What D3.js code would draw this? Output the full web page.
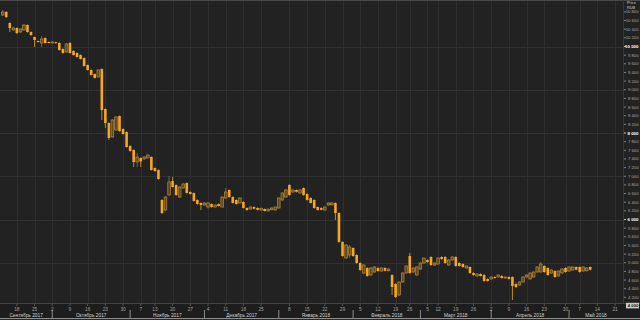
<!DOCTYPE html>
<html><head><meta charset="utf-8">
<script src="https://cdn.jsdelivr.net/npm/d3@7"></script>
<style>
html,body{margin:0;padding:0;background:#222;}
svg{display:block;font-family:"Liberation Sans","DejaVu Sans",sans-serif;}
</style></head>
<body><svg id="c" width="640" height="320"></svg>
<script>
// ---- data (daily candles, RUB) ----
const opens = [10728,10798,10543,10382,10428,10335,10382,10497,10335,10220,10127,10081,10197,10104,10095,10100,10081,9942,9873,10081,9896,9850,9803,9734,9572,9457,9364,9295,9480,8555,8231,7908,8069,8393,8092,8023,7700,7607,7329,7422,7399,7422,7445,7191,7145,6451,6220,6567,6890,6798,6520,6728,6844,6636,6613,6451,6382,6335,6289,6358,6289,6358,6289,6497,6682,6520,6451,6382,6405,6266,6243,6289,6266,6220,6243,6200,6225,6220,6266,6451,6520,6798,6636,6682,6613,6728,6590,6497,6451,6289,6266,6220,6335,6340,6382,6150,5480,5110,5179,5341,5179,4994,4763,4879,4717,4786,4879,4809,4879,4815,4717,4509,4254,4555,4763,5156,4786,4717,4856,4994,5064,5133,4948,4971,5133,5133,4948,5064,5133,4994,4971,4879,4902,4763,4694,4740,4717,4624,4624,4671,4671,4694,4647,4671,4671,4509,4486,4555,4671,4624,4671,4786,4786,4925,4879,4763,4809,4694,4763,4879,4809,4832,4902,4902,4809,4815,4902];
const highs = [10844,10820,10560,10450,10440,10420,10520,10510,10350,10230,10140,10243,10210,10115,10115,10110,10095,9955,10080,10100,9910,9860,9815,9745,9585,9470,9375,9480,9495,8570,8245,8320,8390,8405,8105,8035,7715,7620,7538,7435,7460,7505,7460,7200,7160,6470,6540,7006,6983,6810,6770,6840,6860,6650,6625,6465,6395,6395,6400,6370,6350,6370,6535,6728,6695,6535,6465,6510,6420,6280,6300,6300,6280,6275,6255,6255,6280,6300,6510,6630,6700,6815,6695,6695,6700,6740,6605,6510,6465,6300,6280,6300,6395,6400,6395,6165,5495,5430,5410,5355,5195,5010,4965,4895,4895,4920,4895,4895,4895,4870,4735,4525,4570,4780,4940,5225,4895,4920,5010,5125,5080,5150,5010,5125,5150,5150,5080,5150,5150,5010,4985,4940,4915,4780,4755,4755,4735,4640,4685,4685,4730,4710,4685,4685,4685,4525,4570,4685,4730,4780,4800,4920,5017,4940,4895,4850,4825,4825,4870,4895,4920,4915,4915,4915,4915,4895,4915];
const lows = [10705,10660,10335,10360,10290,10310,10370,10320,10250,9988,10090,9988,10070,10075,10080,10070,9905,9835,9860,9840,9790,9745,9700,9535,9445,9330,9260,9280,8301,8116,7838,7890,8050,8030,7960,7660,7570,7214,7214,7214,7385,7410,7130,7105,6920,6130,6200,6550,6740,6550,6505,6715,6600,6575,6415,6345,6220,6320,6250,6275,6275,6300,6275,6480,6505,6370,6345,6370,6255,6205,6230,6235,6210,6205,6185,6185,6210,6205,6250,6435,6505,6550,6620,6625,6600,6550,6435,6370,6250,6205,6210,6205,6320,6325,5989,5460,5140,5095,5110,5140,4980,4815,4745,4680,4700,4770,4795,4795,4800,4800,4254,4190,4235,4540,4750,4745,4770,4700,4840,4980,5000,4930,4930,4955,5070,4980,4930,5050,4910,4910,4885,4865,4745,4700,4680,4680,4560,4560,4610,4630,4655,4630,4630,4610,4139,4420,4470,4540,4655,4610,4655,4770,4770,4770,4700,4745,4655,4680,4745,4770,4795,4815,4825,4770,4795,4800,4825];
const closes = [10798,10682,10428,10428,10312,10405,10497,10335,10266,10150,10104,10173,10081,10090,10104,10085,9919,9850,10058,9850,9803,9757,9711,9549,9457,9341,9272,9457,8532,8231,7884,8301,8370,8046,7977,7676,7584,7329,7445,7340,7445,7491,7145,7121,6936,6150,6520,6867,6752,6567,6752,6821,6613,6590,6428,6358,6335,6382,6382,6289,6335,6312,6520,6636,6520,6382,6358,6497,6266,6220,6289,6250,6225,6260,6197,6240,6266,6289,6497,6613,6682,6567,6682,6640,6682,6567,6451,6382,6266,6220,6225,6289,6382,6382,6150,5480,5156,5410,5364,5156,4994,4832,4948,4694,4879,4902,4809,4879,4815,4856,4439,4208,4555,4763,4925,4763,4879,4902,4994,5110,5017,4948,4994,5110,5087,4994,5064,5133,4925,4925,4902,4925,4763,4717,4740,4694,4578,4578,4671,4647,4717,4647,4671,4624,4462,4439,4555,4671,4717,4763,4786,4902,4971,4786,4717,4832,4671,4809,4856,4786,4902,4902,4840,4786,4902,4879,4840];

// axis labels
const priceTicks = [4200,4400,4600,4800,5000,5200,5400,5600,5800,6000,6200,6400,6600,6800,7000,7200,7400,7600,7800,8000,8200,8400,8600,8800,9000,9200,9400,9600,9800,10000,10200,10400,10600,10800];
const majorTicks = [6000,8000,10000];
const gridLevels = [5000,6000,7000,8000,9000,10000];
const boxTick = 4000;
const dayTickIdx = [4,9,14,19,24,29,34,39,43,48,53,58,63,68,73,81,86,91,96,101,106,111,115,120,123,128,133,138,143,148,153,159,163,168,173];
const dayTickLab = ["18","25","2","9","16","23","30","7","13","20","27","4","11","18","25","8","15","22","29","5","12","19","26","5","12","19","26","2","9","16","23","30","7","14","21"];
const monthStartIdx = [0,14,36,57,78,99,118,138,160];
const monthNames = ["Сентябрь 2017","Октябрь 2017","Ноябрь 2017","Декабрь 2017","Январь 2018","Февраль 2018","Март 2018","Апрель 2018","Май 2018"];
const unitLines = ["Price","RUB"];

// ---- drawing ----
const W = 640, H = 320;
const plotR = 623, plotB = 303;
const svg = d3.select("#c");
const x = d3.scaleLinear().domain([0,166]).range([2.7,590.3]);
const y = d3.scaleLinear().domain([4000,10000]).range([306,46.5]);
const fmt = d3.formatLocale({decimal:",",thousands:" ",grouping:[3],currency:["",""]}).format(",");

svg.append("rect").attr("width",W).attr("height",H).attr("fill","#222");
svg.append("rect").attr("x",0).attr("y",plotB).attr("width",W).attr("height",H-plotB).attr("fill","#1d1d1d");

// grid
const g = svg.append("g").attr("shape-rendering","crispEdges");
g.selectAll(".vg").data(dayTickIdx).join("line")
  .attr("x1",d=>Math.round(x(d))+0.5).attr("x2",d=>Math.round(x(d))+0.5)
  .attr("y1",0).attr("y2",plotB).attr("stroke","#2e2e2e");
g.selectAll(".hg").data(gridLevels).join("line")
  .attr("x1",0).attr("x2",plotR).attr("y1",d=>Math.round(y(d))+0.5).attr("y2",d=>Math.round(y(d))+0.5)
  .attr("stroke","#303030");
g.append("line").attr("x1",0).attr("x2",W).attr("y1",0.5).attr("y2",0.5).attr("stroke","#4a4a4a");
g.append("line").attr("x1",plotR+0.5).attr("x2",plotR+0.5).attr("y1",0).attr("y2",plotB).attr("stroke","#383838");
g.append("line").attr("x1",0).attr("x2",W).attr("y1",plotB+0.5).attr("y2",plotB+0.5).attr("stroke","#444");

// candles
const idx = d3.range(opens.length);
const cg = svg.append("g");
cg.selectAll(".wick").data(idx).join("line")
  .attr("x1",i=>x(i)).attr("x2",i=>x(i))
  .attr("y1",i=>y(highs[i])).attr("y2",i=>y(lows[i]))
  .attr("stroke",i=>closes[i]>=opens[i]?"#8c7448":"#e8a028").attr("stroke-width",0.8);
cg.selectAll(".body").data(idx).join("rect")
  .attr("x",i=>x(i)-1.3)
  .attr("y",i=>y(Math.max(opens[i],closes[i])))
  .attr("width",2.6)
  .attr("height",i=>Math.max(1,Math.abs(y(opens[i])-y(closes[i]))))
  .attr("fill",i=>closes[i]>=opens[i]?"#5e4820":"#f5a623")
  .attr("stroke",i=>closes[i]>=opens[i]?"#b88a38":"none")
  .attr("stroke-width",0.7);

// right axis
const ra = svg.append("g");
ra.selectAll(".tk").data(priceTicks).join("line")
  .attr("x1",624).attr("x2",626).attr("y1",d=>y(d)).attr("y2",d=>y(d))
  .attr("stroke",d=>majorTicks.includes(d)?"#eee":"#999").attr("stroke-width",0.8);
ra.selectAll(".tl").data(priceTicks).join("text")
  .attr("x",638.5).attr("y",d=>y(d)).attr("dy","0.35em").attr("text-anchor","end")
  .attr("font-size",d=>majorTicks.includes(d)?4.4:4.2)
  .attr("font-weight",d=>majorTicks.includes(d)?"bold":"normal")
  .attr("fill",d=>majorTicks.includes(d)?"#fff":"#a8a8a8")
  .text(d=>fmt(d));
ra.append("rect").attr("x",626).attr("y",y(boxTick)-3.2).attr("width",13).attr("height",5.6).attr("fill","#c8c8c8");
ra.append("text").attr("x",638.3).attr("y",y(boxTick)-0.3).attr("dy","0.35em").attr("text-anchor","end").attr("font-size",4.2)
  .attr("font-weight","bold").attr("fill","#222").text(fmt(boxTick));
ra.selectAll(".unit").data(unitLines).join("text")
  .attr("x",627).attr("y",(d,i)=>2.8+i*4.4).attr("dy","0.35em").attr("font-size",3.9)
  .attr("fill","#cfcfcf").text(d=>d);

// bottom axis
const ba = svg.append("g");
ba.selectAll(".dt").data(dayTickIdx).join("line")
  .attr("x1",d=>x(d)).attr("x2",d=>x(d)).attr("y1",plotB+1).attr("y2",plotB+3)
  .attr("stroke","#777").attr("stroke-width",0.6);
ba.selectAll(".dl").data(dayTickIdx).join("text")
  .attr("x",d=>x(d)).attr("y",310.5).attr("text-anchor","middle").attr("font-size",4.8)
  .attr("fill","#a0a0a0").text((d,i)=>dayTickLab[i]);
const sepX = monthStartIdx.map(i=>x(i));
ba.selectAll(".ms").data(monthStartIdx.slice(1)).join("line")
  .attr("x1",d=>x(d)).attr("x2",d=>x(d)).attr("y1",310).attr("y2",318)
  .attr("stroke","#bbb").attr("stroke-width",0.7);
ba.selectAll(".ml").data(monthNames).join("text")
  .attr("x",(d,i)=>{const a=i===0?0:sepX[i];const b=i+1<sepX.length?sepX[i+1]:plotR;return (a+b)/2;})
  .attr("y",316.5).attr("text-anchor","middle").attr("font-size",4.8)
  .attr("fill","#d0d0d0").text(d=>d);
ba.append("line").attr("x1",0).attr("x2",W).attr("y1",318.6).attr("y2",318.6).attr("stroke","#9a9a9a").attr("stroke-width",1);
</script></body></html>
